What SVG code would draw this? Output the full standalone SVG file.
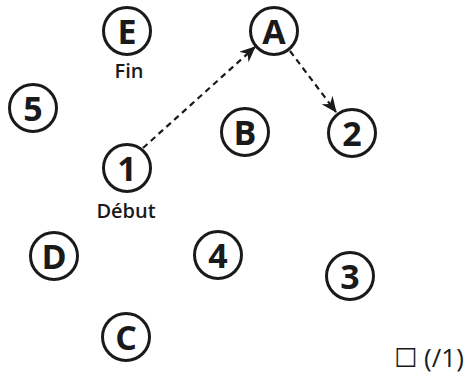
<svg xmlns="http://www.w3.org/2000/svg" width="470" height="378" viewBox="0 0 470 378">
<defs>
<style>
.n circle{fill:#fff;stroke:#1a1a1a;stroke-width:3}
.n text{font-family:"Open Sans","Noto Sans",sans-serif;font-weight:700;font-size:34px;fill:#1a1a1a;text-anchor:middle}
.lbl{font-family:"Open Sans","Noto Sans",sans-serif;font-weight:600;font-size:20px;fill:#1a1a1a;text-anchor:middle}
.c{stroke:#1a1a1a;stroke-width:2.2;stroke-dasharray:6 4.5;fill:none}
</style>
<marker id="ah" viewBox="0 0 16 14" refX="15" refY="7" markerWidth="16" markerHeight="14" markerUnits="userSpaceOnUse" orient="auto">
<path d="M0,0 L16,7 L0,14 L5,7 Z" fill="#1a1a1a"/>
</marker>
</defs>
<rect width="470" height="378" fill="#fff"/>
<g id="connectors">
<path class="c" d="M143,148 L255,47" marker-end="url(#ah)"/>
<path class="c" d="M290,51 L336,112" marker-end="url(#ah)"/>
</g>
<g id="nE" class="n"><circle cx="127" cy="31" r="23.5"/><text x="127" y="44">E</text></g>
<text class="lbl" x="129" y="78">Fin</text>
<g id="nA" class="n"><circle cx="274" cy="31" r="23.5"/><text x="274" y="44">A</text></g>
<g id="n5" class="n"><circle cx="33" cy="108" r="23.5"/><text x="33" y="121">5</text></g>
<g id="nB" class="n"><circle cx="245" cy="132" r="23.5"/><text x="245" y="145">B</text></g>
<g id="n2" class="n"><circle cx="352" cy="133" r="23.5"/><text x="352" y="146">2</text></g>
<g id="n1" class="n"><circle cx="127" cy="168" r="23.5"/><text x="127" y="181">1</text></g>
<text class="lbl" x="126" y="218">Début</text>
<g id="nD" class="n"><circle cx="54" cy="256" r="23.5"/><text x="54" y="269">D</text></g>
<g id="n4" class="n"><circle cx="218" cy="255" r="23.5"/><text x="218" y="268">4</text></g>
<g id="n3" class="n"><circle cx="350" cy="276" r="23.5"/><text x="350" y="289">3</text></g>
<g id="nC" class="n"><circle cx="126" cy="337" r="23.5"/><text x="126" y="350">C</text></g>
<text x="394" y="367" style="font-family:'Open Sans','DejaVu Sans',sans-serif;font-size:26px;fill:#1a1a1a">☐ (/1)</text>
</svg>
